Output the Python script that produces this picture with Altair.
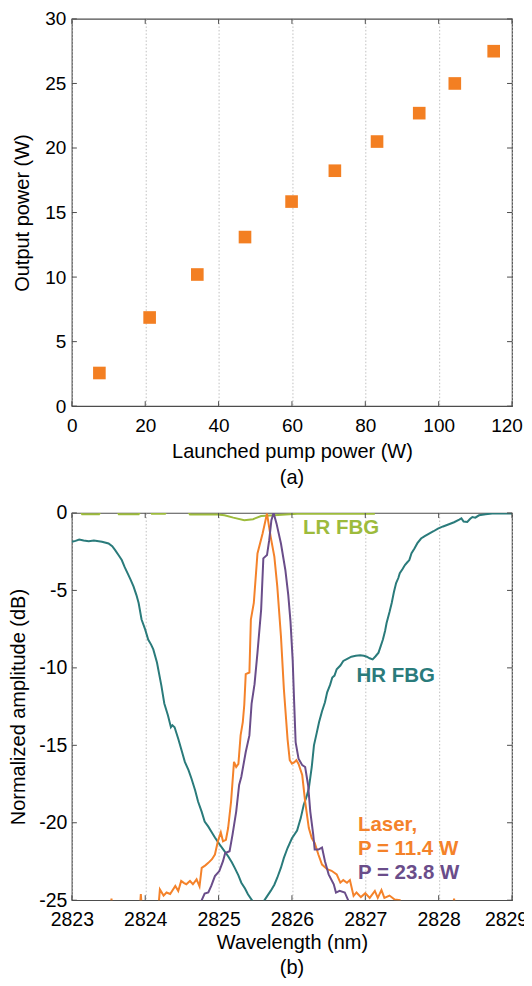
import altair as alt
import pandas as pd

# ---------------- data: panel (a) ----------------
pump_w = [7.5, 21.2, 34.2, 47.2, 59.9, 71.7, 83.2, 94.7, 104.4, 115.0]
out_w = [2.57, 6.87, 10.2, 13.1, 15.85, 18.24, 20.5, 22.7, 25.0, 27.5]
a_xticks = [0, 20, 40, 60, 80, 100, 120]
a_yticks = [0, 5, 10, 15, 20, 25, 30]

# ---------------- data: panel (b) ----------------
lr_lam = [2823.00, 2823.10, 2823.14, 2823.37, 2823.42, 2823.60, 2823.64, 2823.91, 2823.96,
          2824.05, 2824.09, 2824.27, 2824.32, 2824.56, 2824.61, 2824.99, 2825.08, 2825.20,
          2825.35, 2825.47, 2825.58, 2825.76, 2826.07, 2826.50, 2827.13]
lr_db = [0.3, 0.3, -0.08, -0.08, 0.3, 0.3, -0.08, -0.08, 0.3,
         0.3, -0.05, -0.05, 0.3, 0.3, -0.1, -0.1, -0.15, -0.3,
         -0.47, -0.4, -0.2, -0.15, -0.05, -0.05, -0.05]

hr_lam = [2823.00, 2823.05, 2823.10, 2823.16, 2823.23, 2823.30, 2823.41, 2823.50, 2823.55, 2823.59,
          2823.64, 2823.68, 2823.72, 2823.77, 2823.80, 2823.84, 2823.88, 2823.91, 2823.95, 2824.00,
          2824.04, 2824.08, 2824.11, 2824.16, 2824.22, 2824.26, 2824.31, 2824.35, 2824.37, 2824.40,
          2824.45, 2824.50, 2824.54, 2824.59, 2824.63, 2824.68, 2824.72, 2824.77, 2824.81, 2824.86,
          2824.90, 2824.95, 2825.00, 2825.06, 2825.13, 2825.18, 2825.22, 2825.27, 2825.31, 2825.36,
          2825.40, 2825.46, 2825.54, 2825.62, 2825.66, 2825.71, 2825.76, 2825.80, 2825.85, 2825.89,
          2825.94, 2826.00, 2826.07, 2826.12, 2826.16, 2826.20, 2826.23, 2826.27, 2826.30, 2826.34,
          2826.37, 2826.41, 2826.45, 2826.48, 2826.52, 2826.55, 2826.58, 2826.61, 2826.66, 2826.70,
          2826.76, 2826.81, 2826.87, 2826.93, 2826.98, 2827.02, 2827.06, 2827.10, 2827.14, 2827.18,
          2827.21, 2827.24, 2827.27, 2827.29, 2827.33, 2827.36, 2827.39, 2827.42, 2827.45, 2827.47,
          2827.51, 2827.54, 2827.57, 2827.60, 2827.63, 2827.67, 2827.71, 2827.76, 2827.81, 2827.87,
          2827.93, 2827.99, 2828.06, 2828.14, 2828.21, 2828.28, 2828.31, 2828.34, 2828.39, 2828.43,
          2828.46, 2828.50, 2828.55, 2828.64, 2828.73, 2828.85, 2828.98, 2829.00]
hr_db = [-1.86, -1.80, -1.71, -1.78, -1.82, -1.78, -1.86, -1.97, -2.15, -2.40,
         -2.75, -3.04, -3.50, -4.00, -4.30, -4.74, -5.30, -5.81, -6.88, -7.53,
         -8.17, -8.50, -8.81, -9.66, -11.15, -12.30, -13.08, -13.83, -13.70, -13.83,
         -14.58, -15.40, -16.07, -16.60, -17.14, -17.90, -18.63, -19.30, -19.92, -20.25,
         -20.56, -20.95, -21.31, -21.70, -22.16, -22.55, -22.91, -23.40, -23.87, -24.25,
         -24.62, -25.04, -26.00, -25.04, -24.75, -24.40, -24.00, -23.55, -22.90, -22.27,
         -21.63, -21.00, -20.50, -19.70, -18.85, -18.30, -17.78, -16.40, -15.00, -14.15,
         -13.50, -12.80, -12.22, -11.58, -11.10, -10.62, -10.50, -10.09, -9.85, -9.55,
         -9.40, -9.28, -9.22, -9.19, -9.22, -9.28, -9.38, -9.45, -9.25, -9.02,
         -8.60, -8.17, -7.60, -7.10, -6.40, -5.81, -5.10, -4.53, -4.20, -3.89,
         -3.60, -3.36, -3.20, -3.04, -2.60, -2.29, -1.95, -1.65, -1.50, -1.33,
         -1.18, -1.01, -0.87, -0.73, -0.60, -0.43, -0.35, -0.55, -0.58, -0.38,
         -0.26, -0.30, -0.15, -0.08, -0.04, -0.03, -0.04, -0.04]

las1_lam = [2823.00, 2823.52, 2823.54, 2823.56, 2823.92, 2823.94, 2823.96, 2824.17, 2824.20, 2824.25,
            2824.29, 2824.34, 2824.41, 2824.45, 2824.49, 2824.53, 2824.56, 2824.61, 2824.65, 2824.70,
            2824.74, 2824.77, 2824.82, 2824.86, 2824.91, 2824.95, 2824.99, 2825.03, 2825.06, 2825.10,
            2825.13, 2825.17, 2825.21, 2825.24, 2825.27, 2825.30, 2825.33, 2825.35, 2825.37, 2825.42,
            2825.44, 2825.48, 2825.53, 2825.60, 2825.66, 2825.71, 2825.76, 2825.80, 2825.85, 2825.89,
            2825.92, 2825.94, 2825.97, 2826.00, 2826.03, 2826.06, 2826.09, 2826.14, 2826.18, 2826.23,
            2826.27, 2826.31, 2826.36, 2826.41, 2826.48, 2826.54, 2826.61, 2826.66, 2826.70, 2826.75,
            2826.79, 2826.84, 2826.88, 2826.94, 2827.00, 2827.06, 2827.13, 2827.17, 2827.22, 2827.26,
            2827.33, 2827.40, 2827.47, 2827.52, 2828.18, 2828.21, 2828.24, 2829.00]
las1_db = [-26, -26, -24.9, -26, -26, -24.6, -26, -26, -24.3, -24.7,
           -24.5, -24.6, -24.08, -24.4, -23.76, -23.9, -23.97, -23.76, -23.97, -23.65,
           -24.10, -22.91, -22.75, -22.59, -22.35, -22.05, -21.20, -20.62, -21.20, -21.10,
           -20.34, -18.63, -16.07, -16.40, -16.20, -14.36, -13.50, -12.40, -10.41, -10.30,
           -6.88, -5.81, -2.61, -1.33, -0.04, -1.54, -2.82, -4.74, -7.95, -11.37,
           -13.30, -14.60, -15.96, -16.18, -16.10, -15.96, -16.20, -16.92, -18.63, -20.34,
           -20.99, -21.30, -22.05, -22.70, -23.00, -23.10, -23.33, -23.87, -23.70, -23.87,
           -23.70, -24.72, -24.50, -24.80, -24.55, -24.85, -24.40, -24.85, -24.35, -24.85,
           -24.70, -24.95, -25.0, -26, -26, -24.9, -26, -26]

las2_lam = [2824.70, 2824.77, 2824.81, 2824.86, 2824.90, 2824.95, 2825.01, 2825.06, 2825.09, 2825.15,
            2825.19, 2825.24, 2825.28, 2825.31, 2825.37, 2825.42, 2825.45, 2825.49, 2825.53, 2825.58,
            2825.61, 2825.66, 2825.69, 2825.72, 2825.75, 2825.79, 2825.85, 2825.91, 2825.95, 2825.98,
            2826.01, 2826.03, 2826.05, 2826.09, 2826.14, 2826.18, 2826.22, 2826.25, 2826.29, 2826.31,
            2826.36, 2826.41, 2826.45, 2826.50, 2826.57, 2826.60, 2826.65, 2826.72, 2826.77, 2826.82]
las2_db = [-26, -25.0, -24.57, -24.50, -24.08, -23.44, -23.12, -22.48, -21.95, -21.84,
           -20.77, -19.28, -17.56, -17.03, -15.43, -14.36, -12.30, -11.05, -9.02, -6.24,
           -2.93, -2.72, -1.76, -0.47, 0.0, -0.69, -1.97, -3.68, -5.3, -7.0,
           -9.5, -12.2, -14.79, -15.86, -16.28, -16.40, -17.56, -19.28, -20.77, -21.73,
           -21.73, -21.60, -22.48, -23.33, -23.97, -24.51, -24.40, -24.50, -25.04, -26]

b_xticks = [2823, 2824, 2825, 2826, 2827, 2828, 2829]
b_yticks = [-25, -20, -15, -10, -5, 0]

ann_text = ["LR FBG", "HR FBG", "Laser,", "P = 11.4 W", "P = 23.8 W"]
ann_lam = [2826.15, 2826.88, 2826.90, 2826.90, 2826.90]
ann_db = [-1.37, -10.94, -20.56, -22.05, -23.65]

# ---------------- styles ----------------
FONT = "Liberation Sans"
FRAME = "#4d4d4d"
C_SQ = "#F37F22"
C_LR = "#9DBB3C"
C_HR = "#2A7B7B"
C_L1 = "#F4822A"
C_L2 = "#6A4D8A"
ann_color = [C_LR, C_HR, C_L1, C_L1, C_L2]

W1, H1 = 441, 388
W2, H2 = 441, 388
TL = 5  # inward tick length

grid_kw = dict(grid=True, gridColor="#b0b0b0", gridDash=[1.5, 2], gridWidth=0.8)


def inward_ticks(xvals, yvals, xenc, yenc, xname, yname, W, H):
    dx = pd.DataFrame({xname: xvals})
    dy = pd.DataFrame({yname: yvals})
    r = dict(color=FRAME, strokeWidth=1)
    return [
        alt.Chart(dx).mark_rule(**r).encode(x=xenc, y=alt.value(0), y2=alt.value(TL)),
        alt.Chart(dx).mark_rule(**r).encode(x=xenc, y=alt.value(H - TL), y2=alt.value(H)),
        alt.Chart(dy).mark_rule(**r).encode(y=yenc, x=alt.value(0), x2=alt.value(TL)),
        alt.Chart(dy).mark_rule(**r).encode(y=yenc, x=alt.value(W - TL), x2=alt.value(W)),
    ]


def panel_title(txt, off):
    return alt.TitleParams(txt, orient="bottom", frame="group", anchor="middle", font=FONT,
                           fontSize=20, fontWeight="normal", color="black", offset=off)


# ---------------- panel (a) ----------------
xa = alt.X("pump:Q", scale=alt.Scale(domain=[0, 120], nice=False),
           axis=alt.Axis(values=a_xticks, title="Launched pump power (W)",
                         ticks=False, domain=False, labelPadding=10, titlePadding=6.5,
                         labelFlush=False, labelFontSize=19,
                         labelOffset={"condition": {"test": "datum.value == 120", "value": -5.5},
                                      "value": 0},
                         **grid_kw))
ya = alt.Y("out:Q", scale=alt.Scale(domain=[0, 30], nice=False),
           axis=alt.Axis(values=a_yticks, title="Output power (W)", ticks=False,
                         domain=False, grid=False, labelPadding=6, titlePadding=12,
                         labelFontSize=19))

dfa = pd.DataFrame({"pump": pump_w, "out": out_w})
pa = alt.Chart(dfa).mark_square(size=160, color=C_SQ, opacity=1).encode(x=xa, y=ya)
chart_a = alt.layer(pa, *inward_ticks(a_xticks, a_yticks, xa, ya, "pump", "out", W1, H1)).properties(
    width=W1, height=H1, title=panel_title("(a)", 6))

# ---------------- panel (b) ----------------
xb = alt.X("lam:Q", scale=alt.Scale(domain=[2823, 2829], nice=False),
           axis=alt.Axis(values=b_xticks, format="d", title="Wavelength (nm)",
                         ticks=False, domain=False, labelPadding=10, titlePadding=3.5,
                         labelFlush=False, labelFontSize=19.5,
                         labelOffset={"condition": {"test": "datum.value == 2829", "value": -6},
                                      "value": 0},
                         **grid_kw))
yb = alt.Y("db:Q", scale=alt.Scale(domain=[-25, 0], nice=False),
           axis=alt.Axis(values=b_yticks, title="Normalized amplitude (dB)", ticks=False,
                         domain=False, grid=False, labelPadding=5, titlePadding=10,
                         labelFontSize=19.5, labelExpr="'' + datum.value"))


def series(lam, db):
    return pd.DataFrame({"lam": lam, "db": db})


lines = []
for lam, db, col in [(lr_lam, lr_db, C_LR), (hr_lam, hr_db, C_HR),
                     (las1_lam, las1_db, C_L1), (las2_lam, las2_db, C_L2)]:
    lines.append(alt.Chart(series(lam, db)).mark_line(color=col, strokeWidth=2, clip=True)
                 .encode(x=xb, y=yb))

dfann = pd.DataFrame({"lam": ann_lam, "db": ann_db, "t": ann_text, "c": ann_color})
ann = alt.Chart(dfann).mark_text(align="left", baseline="alphabetic", font=FONT,
                                 fontSize=20.5, fontWeight="bold").encode(
    x=xb, y=yb, text="t:N", color=alt.Color("c:N", scale=None))

chart_b = alt.layer(*lines, ann, *inward_ticks(b_xticks, b_yticks, xb, yb, "lam", "db", W2, H2)).properties(
    width=W2, height=H2, title=panel_title("(b)", 5.5))

chart = alt.vconcat(chart_a, chart_b, spacing=13).properties(
    padding={"left": 0, "top": 0, "right": -5, "bottom": 0}
).configure(font=FONT).configure_view(stroke=FRAME, strokeWidth=1.2).configure_axis(
    labelFont=FONT, titleFont=FONT, titleFontSize=20, titleFontWeight="normal",
    labelColor="black", titleColor="black")

chart.save("out.html", embed_options={"renderer": "svg", "actions": False})
